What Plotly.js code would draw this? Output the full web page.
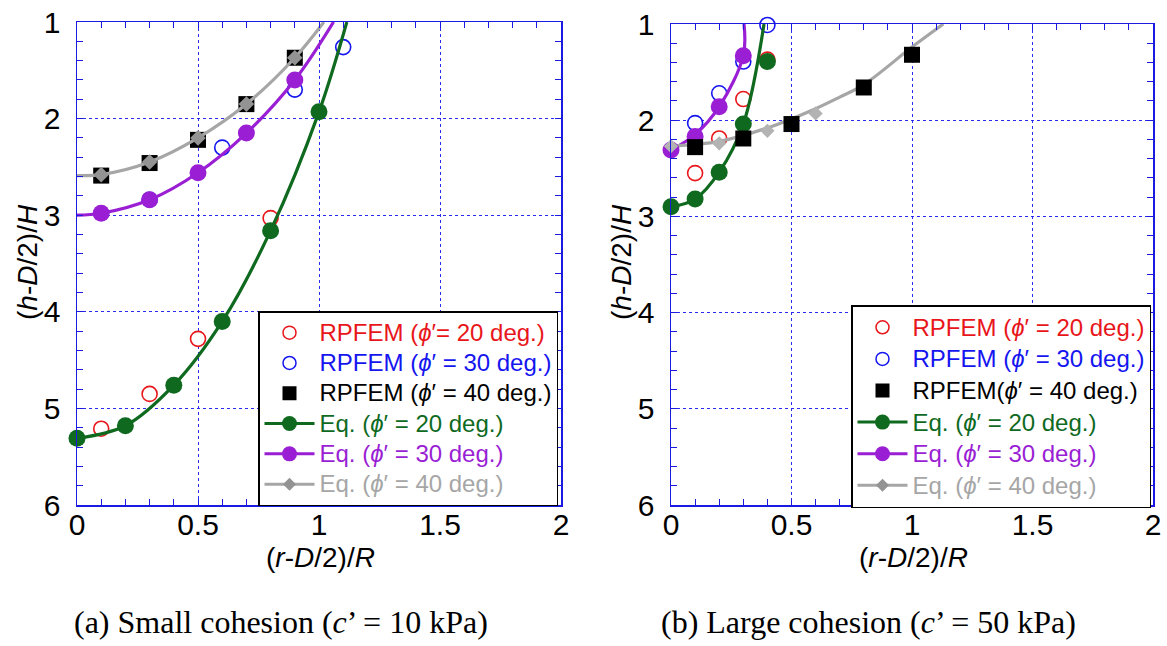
<!DOCTYPE html>
<html><head><meta charset="utf-8">
<script src="https://cdn.plot.ly/plotly-3.0.1.min.js"></script>
<style>body{margin:0;background:#fff}#chart{width:1167px;height:646px}</style>
</head><body><div id="chart"></div>
<script>
// ---------- tick labels ----------
const xTickVals = [0, 0.5, 1, 1.5, 2];
const xTickText = ['0', '0.5', '1', '1.5', '2'];
const yTickVals = [1, 2, 3, 4, 5, 6];
const yTickText = ['1', '2', '3', '4', '5', '6'];

// ---------- (a) small cohesion c' = 10 kPa ----------
const a_rp20_x = [0.1, 0.3, 0.5, 0.8];
const a_rp20_y = [5.21, 4.85, 4.28, 3.03];
const a_rp30_x = [0.3, 0.6, 0.9, 1.1];
const a_rp30_y = [2.84, 2.30, 1.70, 1.26];
const a_rp40_x = [0.1, 0.3, 0.5, 0.7, 0.9];
const a_rp40_y = [2.59, 2.46, 2.22, 1.85, 1.37];
const a_eq20_x = [0, 0.2, 0.4, 0.6, 0.8, 1.0];
const a_eq20_y = [5.31, 5.18, 4.76, 4.10, 3.16, 1.93];
const a_eq30_x = [0.1, 0.3, 0.5, 0.7, 0.9];
const a_eq30_y = [2.98, 2.84, 2.56, 2.15, 1.60];
const a_eq40_x = [0.1, 0.3, 0.5, 0.7, 0.9];
const a_eq40_y = [2.58, 2.45, 2.20, 1.85, 1.37];
const a_c20_x = [0, 0.2, 0.4, 0.6, 0.8, 1.0, 1.115];
const a_c20_y = [5.31, 5.18, 4.76, 4.10, 3.16, 1.93, 1.0];
const a_c30_x = [0, 0.1, 0.3, 0.5, 0.7, 0.9, 1.06];
const a_c30_y = [3.0, 2.98, 2.84, 2.56, 2.15, 1.60, 1.0];
const a_c40_x = [0, 0.1, 0.3, 0.5, 0.7, 0.9, 1.02];
const a_c40_y = [2.59, 2.58, 2.45, 2.20, 1.85, 1.37, 1.0];

// ---------- (b) large cohesion c' = 50 kPa ----------
const b_rp20_x = [0.1, 0.2, 0.3, 0.4];
const b_rp20_y = [2.55, 2.19, 1.78, 1.37];
const b_rp30_x = [0.1, 0.2, 0.3, 0.4];
const b_rp30_y = [2.03, 1.72, 1.39, 1.01];
const b_rp40_x = [0.1, 0.3, 0.5, 0.8, 1.0];
const b_rp40_y = [2.28, 2.19, 2.04, 1.66, 1.32];
const b_eq20_x = [0, 0.1, 0.2, 0.3, 0.4];
const b_eq20_y = [2.90, 2.82, 2.54, 2.04, 1.39];
const b_eq30_x = [0, 0.1, 0.2, 0.3];
const b_eq30_y = [2.31, 2.17, 1.86, 1.33];
const b_eq40_x = [0, 0.2, 0.4, 0.6];
const b_eq40_y = [2.27, 2.24, 2.11, 1.93];
const b_c20_x = [0, 0.1, 0.2, 0.3, 0.386];
const b_c20_y = [2.90, 2.82, 2.54, 2.04, 1.0];
const b_c30_x = [0, 0.1, 0.2, 0.3, 0.303];
const b_c30_y = [2.31, 2.15, 1.86, 1.33, 1.0];
const b_c40_x = [0, 0.2, 0.4, 0.6, 0.7, 0.8, 1.0, 1.13];
const b_c40_y = [2.27, 2.22, 2.08, 1.88, 1.76, 1.63, 1.24, 1.0];

// ---------- legend texts ----------
const legA = [
  "RPFEM (<i>ϕ</i>′= 20 deg.)",
  "RPFEM (<i>ϕ</i>′ = 30 deg.)",
  "RPFEM (<i>ϕ</i>′ = 40 deg.)",
  "Eq. (<i>ϕ</i>′ = 20 deg.)",
  "Eq. (<i>ϕ</i>′ = 30 deg.)",
  "Eq. (<i>ϕ</i>′ = 40 deg.)"
];
const legB = [
  "RPFEM (<i>ϕ</i>′ = 20 deg.)",
  "RPFEM (<i>ϕ</i>′ = 30 deg.)",
  "RPFEM(<i>ϕ</i>′ = 40 deg.)",
  "Eq. (<i>ϕ</i>′ = 20 deg.)",
  "Eq. (<i>ϕ</i>′ = 30 deg.)",
  "Eq. (<i>ϕ</i>′ = 40 deg.)"
];

// ---------- styles ----------
const RED = '#e8161b', BLUE = '#1515f0', BLACK = '#000000';
const GREEN = '#0f6a1f', PURPLE = '#9a1fd4', GREY = '#a6a6a6', GREYM = '#939393';
const AXC = '#1a1ae0';

function openC(x, y, c, xa, ya) {
  return {x, y, xaxis: xa, yaxis: ya, type: 'scatter', mode: 'markers', showlegend: false, cliponaxis: false, hoverinfo: 'skip',
    marker: {symbol: 'circle', size: 15, color: '#ffffff', line: {color: c, width: 1.6}}};
}
function square(x, y, xa, ya) {
  return {x, y, xaxis: xa, yaxis: ya, type: 'scatter', mode: 'markers', showlegend: false, cliponaxis: false, hoverinfo: 'skip',
    marker: {symbol: 'square', size: 16, color: BLACK}};
}
function filled(x, y, c, xa, ya, sym, size) {
  return {x, y, xaxis: xa, yaxis: ya, type: 'scatter', mode: 'markers', showlegend: false, cliponaxis: false, hoverinfo: 'skip',
    marker: {symbol: sym || 'circle', size: size || 17, color: c, line: {width: 0}}};
}
function curve(x, y, c, xa, ya) {
  return {x, y, xaxis: xa, yaxis: ya, type: 'scatter', mode: 'lines', showlegend: false, hoverinfo: 'skip',
    line: {color: c, width: 3.2, shape: 'spline', smoothing: 1}};
}
function legItems(names, leg, xa, ya) {
  const cols = [RED, BLUE, BLACK, GREEN, PURPLE, GREY];
  const out = [];
  names.forEach((n, i) => {
    const t = {x: [null], y: [null], xaxis: xa, yaxis: ya, type: 'scatter', legend: leg, legendgroup: leg + i,
      name: '<span style="font-size:24px;color:' + cols[i] + '">' + n + '</span>', hoverinfo: 'skip'};
    if (i < 2) { t.mode = 'markers'; t.marker = {symbol: 'circle', size: 13, color: '#fff', line: {color: cols[i], width: 1.5}}; }
    else if (i === 2) { t.mode = 'markers'; t.marker = {symbol: 'square', size: 14, color: BLACK}; }
    else if (i < 5) { t.mode = 'lines+markers'; t.line = {color: cols[i], width: 3}; t.marker = {symbol: 'circle', size: 15, color: cols[i]}; }
    else { t.mode = 'lines+markers'; t.line = {color: GREY, width: 3}; t.marker = {symbol: 'diamond', size: 10, color: GREYM}; }
    out.push(t);
  });
  return out;
}

const data = [
  // (a)
  openC(a_rp20_x, a_rp20_y, RED, 'x', 'y'),
  openC(a_rp30_x, a_rp30_y, BLUE, 'x', 'y'),
  square(a_rp40_x, a_rp40_y, 'x', 'y'),
  curve(a_c20_x, a_c20_y, GREEN, 'x', 'y'),
  curve(a_c30_x, a_c30_y, PURPLE, 'x', 'y'),
  curve(a_c40_x, a_c40_y, GREY, 'x', 'y'),
  filled(a_eq20_x, a_eq20_y, GREEN, 'x', 'y'),
  filled(a_eq30_x, a_eq30_y, PURPLE, 'x', 'y'),
  filled(a_eq40_x, a_eq40_y, GREYM, 'x', 'y', 'diamond', 12),
  // (b)
  openC(b_rp20_x, b_rp20_y, RED, 'x2', 'y2'),
  openC(b_rp30_x, b_rp30_y, BLUE, 'x2', 'y2'),
  curve(b_c20_x, b_c20_y, GREEN, 'x2', 'y2'),
  curve(b_c30_x, b_c30_y, PURPLE, 'x2', 'y2'),
  curve(b_c40_x, b_c40_y, GREY, 'x2', 'y2'),
  filled(b_eq20_x, b_eq20_y, GREEN, 'x2', 'y2'),
  filled(b_eq30_x, b_eq30_y, PURPLE, 'x2', 'y2'),
  filled(b_eq40_x, b_eq40_y, '#b3b3b3', 'x2', 'y2', 'diamond', 11),
  square(b_rp40_x, b_rp40_y, 'x2', 'y2')
].concat(legItems(legA, 'legend', 'x', 'y')).concat(legItems(legB, 'legend2', 'x2', 'y2'));

const W = 1167, H = 646;
function axis(isY, domain, anchor) {
  return {
    domain: domain, anchor: anchor,
    range: isY ? [6, 1] : [0, 2],
    tickmode: 'array', tickvals: isY ? yTickVals : xTickVals, ticktext: isY ? yTickText : xTickText,
    ticks: 'inside', ticklen: 6, tickwidth: 1, tickcolor: AXC,
    showline: true, linecolor: AXC, linewidth: 1.5, mirror: 'ticks',
    showgrid: true, gridcolor: '#2b2bee', griddash: 'dot', gridwidth: 1,
    zeroline: false, automargin: false, fixedrange: true,
    ticklabelstandoff: isY ? 9 : -8,
    tickfont: {family: 'Liberation Sans, Arial, sans-serif', size: 30, color: '#000'},
    minor: {dtick: isY ? 0.2 : 0.1, tick0: 0, ticks: 'inside', ticklen: 6, tickwidth: 1, tickcolor: AXC, showgrid: false}
  };
}
const yDom = [1 - 505 / H, 1 - 22 / H];
const yDom2 = [1 - 505 / H, 1 - 24 / H];
const legendBase = {
  xanchor: 'left', yanchor: 'top', bgcolor: '#ffffff', bordercolor: '#000', borderwidth: 1.5,
  font: {family: 'Liberation Sans, Arial, sans-serif', size: 21, color: '#000'},
  itemwidth: 50, tracegroupgap: 0, traceorder: 'grouped'
};
const titleFont = {family: 'Liberation Sans, Arial, sans-serif', size: 28, color: '#000'};
const capFont = {family: 'Liberation Serif, Times New Roman, serif', size: 32, color: '#000'};
const layout = {
  width: W, height: H,
  margin: {l: 0, r: 0, t: 0, b: 0},
  paper_bgcolor: '#fff', plot_bgcolor: '#fff',
  xaxis: axis(false, [77 / W, 561 / W], 'y'),
  yaxis: axis(true, yDom, 'x'),
  xaxis2: axis(false, [671 / W, 1153 / W], 'y2'),
  yaxis2: axis(true, yDom2, 'x2'),
  legend: Object.assign({}, legendBase, {x: 258 / W, y: 1 - 311 / H}),
  legend2: Object.assign({}, legendBase, {x: 851 / W, y: 1 - 305 / H, font: Object.assign({}, legendBase.font, {size: 22})}),
  annotations: [
    {text: '(<i>h</i>-<i>D</i>/2)/<i>H</i>', xref: 'paper', yref: 'paper', x: 27 / W, y: 1 - 262 / H, textangle: -90, showarrow: false, font: titleFont, xanchor: 'center', yanchor: 'middle'},
    {text: '(<i>h</i>-<i>D</i>/2)/<i>H</i>', xref: 'paper', yref: 'paper', x: 621 / W, y: 1 - 262 / H, textangle: -90, showarrow: false, font: titleFont, xanchor: 'center', yanchor: 'middle'},
    {text: '(<i>r</i>-<i>D</i>/2)/<i>R</i>', xref: 'paper', yref: 'paper', x: 320 / W, y: 1 - 557 / H, showarrow: false, font: titleFont, xanchor: 'center', yanchor: 'middle'},
    {text: '(<i>r</i>-<i>D</i>/2)/<i>R</i>', xref: 'paper', yref: 'paper', x: 913 / W, y: 1 - 557 / H, showarrow: false, font: titleFont, xanchor: 'center', yanchor: 'middle'},
    {text: '(a) Small cohesion (<i>c</i>’ = 10 kPa)', xref: 'paper', yref: 'paper', x: 72 / W, y: 1 - 622 / H, showarrow: false, font: capFont, xanchor: 'left', yanchor: 'middle'},
    {text: '(b) Large cohesion (<i>c</i>’ = 50 kPa)', xref: 'paper', yref: 'paper', x: 1078 / W, y: 1 - 622 / H, showarrow: false, font: capFont, xanchor: 'right', yanchor: 'middle'}
  ]
};
Plotly.newPlot('chart', data, layout, {staticPlot: true, displayModeBar: false});
</script>
</body></html>
